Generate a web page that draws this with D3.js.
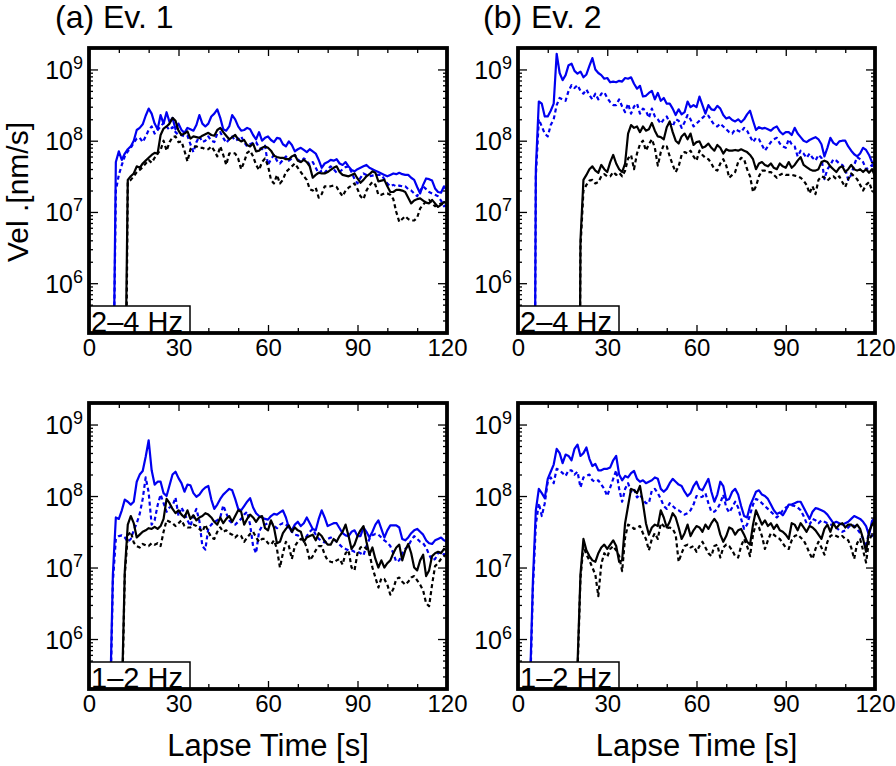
<!DOCTYPE html>
<html><head><meta charset="utf-8">
<script src="https://cdn.jsdelivr.net/npm/d3@7"></script>
<style>body{margin:0;background:#fff}svg{display:block}</style>
</head><body>
<script>
// ---------------- DATA (log10 of velocity in nm/s, one value per second) ----------------
// series order in each panel: [blue solid, blue dashed, black solid, black dashed]
const xTickLabels = [0, 30, 60, 90, 120];
const xMinorTicks = [10, 20, 40, 50, 70, 80, 100, 110];
const yTickLabels = [1e6, 1e7, 1e8, 1e9];
const panelTitles = ["(a) Ev. 1", "(b) Ev. 2"];
const bandLabels = ["2\u20134 Hz", "1\u20132 Hz"];

// Ev.1, 2-4 Hz
const ev1_24_onset = [8.3, 8.3, 12.3, 12.5];
const ev1_24_start = [9, 9, 13, 13];
const ev1_24_blueSolid = [7.7,
 7.85,7.73,7.82,7.88,7.92,8.0,8.15,8.18,8.23,8.35,
 8.45,8.38,8.24,8.16,8.36,8.24,8.4,8.26,8.32,8.16,
 8.24,8.15,8.11,8.18,8.16,8.14,8.22,8.36,8.24,8.2,
 8.24,8.34,8.38,8.44,8.32,8.16,8.14,8.2,8.36,8.3,
 8.2,8.14,8.15,8.18,8.16,8.08,8.02,8.12,8.0,8.04,
 8.06,8.01,7.98,8.04,8.03,7.95,7.92,7.99,7.94,7.85,
 7.88,7.9,7.87,7.84,7.88,7.85,7.82,7.73,7.62,7.68,
 7.7,7.73,7.72,7.74,7.68,7.66,7.7,7.64,7.59,7.57,
 7.6,7.62,7.64,7.66,7.62,7.6,7.58,7.56,7.54,7.52,
 7.5,7.52,7.54,7.53,7.55,7.53,7.52,7.52,7.48,7.45,
 7.35,7.26,7.38,7.47,7.46,7.44,7.33,7.28,7.27,7.36,7.3];
const ev1_24_blueDashed = [7.3,
 7.52,7.66,7.78,7.85,7.9,7.97,8.03,8.04,7.98,8.06,
 8.15,8.2,8.1,8.15,8.2,8.25,8.2,8.15,8.19,8.12,
 8.08,8.08,8.06,8.07,7.95,7.84,7.98,8.06,7.98,8.0,
 8.06,8.0,7.98,8.1,8.12,8.04,7.97,8.02,8.06,8.0,
 8.02,8.06,7.98,7.92,7.95,7.97,7.98,7.9,7.88,7.93,
 7.66,7.74,7.8,7.72,7.68,7.73,7.78,7.72,7.75,7.8,
 7.74,7.7,7.75,7.72,7.66,7.7,7.62,7.54,7.58,7.55,
 7.6,7.64,7.6,7.55,7.56,7.6,7.63,7.64,7.56,7.46,
 7.4,7.48,7.54,7.52,7.5,7.51,7.52,7.52,7.52,7.46,
 7.4,7.36,7.38,7.36,7.37,7.36,7.36,7.32,7.3,7.26,
 7.22,7.3,7.36,7.32,7.28,7.26,7.24,7.22,7.16,7.08,7.1];
const ev1_24_blackSolid = [7.45,7.5,7.54,7.64,7.62,7.68,7.72,
 7.76,7.8,7.83,7.82,8.08,8.17,8.2,8.24,8.32,8.28,
 8.14,8.08,8.1,8.13,8.03,8.06,8.05,8.04,8.07,8.09,
 8.11,8.08,8.07,8.15,8.18,8.12,8.07,8.02,8.05,8.08,
 8.02,7.99,8.01,7.94,7.92,7.96,7.85,7.86,7.9,7.92,
 7.9,7.86,7.79,7.77,7.76,7.76,7.74,7.74,7.78,7.8,
 7.72,7.7,7.73,7.7,7.64,7.48,7.52,7.55,7.54,7.54,
 7.56,7.59,7.62,7.64,7.56,7.52,7.51,7.5,7.52,7.54,
 7.47,7.41,7.45,7.5,7.53,7.57,7.55,7.43,7.44,7.45,
 7.36,7.28,7.28,7.31,7.31,7.3,7.28,7.2,7.12,7.16,
 7.18,7.19,7.16,7.13,7.12,7.17,7.12,7.07,7.1,7.14,7.12];
const ev1_24_blackDashed = [7.42,7.45,7.5,7.56,7.59,7.63,7.68,
 7.73,7.69,7.76,7.82,7.87,8.0,7.86,7.98,8.05,8.06,
 7.98,7.99,7.86,7.71,7.88,7.91,7.92,7.9,7.9,7.88,
 7.88,7.92,7.86,7.78,7.92,7.8,7.66,7.82,7.83,7.82,
 7.75,7.6,7.7,7.83,7.86,7.78,7.66,7.59,7.7,7.75,
 7.65,7.45,7.4,7.52,7.4,7.45,7.56,7.6,7.64,7.68,
 7.62,7.56,7.5,7.45,7.32,7.3,7.34,7.2,7.25,7.36,
 7.36,7.36,7.37,7.35,7.28,7.22,7.3,7.34,7.37,7.4,
 7.32,7.22,7.18,7.3,7.37,7.42,7.38,7.24,7.24,7.26,
 7.26,7.24,7.18,7.0,6.86,6.9,6.94,6.9,6.88,6.88,
 6.92,7.05,7.1,7.15,7.17,7.12,7.08,7.1,7.12,7.1,7.08];

// Ev.2, 2-4 Hz
const ev2_24_onset = [5.7, 5.7, 20.8, 20.8];
const ev2_24_start = [6, 6, 21, 21];
const ev2_24_blueSolid = [7.6,8.55,8.52,8.34,
 8.34,8.42,8.52,9.22,8.95,8.85,8.92,9.06,9.08,8.98,
 8.94,8.97,8.89,8.93,9.05,9.16,9.0,8.95,8.92,8.87,
 8.88,8.82,8.83,8.82,8.84,8.83,8.88,8.87,8.89,8.8,
 8.73,8.77,8.62,8.63,8.67,8.7,8.58,8.67,8.56,8.6,
 8.52,8.52,8.45,8.36,8.44,8.37,8.4,8.55,8.47,8.5,
 8.47,8.62,8.5,8.38,8.5,8.44,8.43,8.49,8.45,8.36,
 8.31,8.33,8.29,8.27,8.3,8.26,8.3,8.37,8.42,8.28,
 8.15,8.19,8.17,8.18,8.16,8.14,8.18,8.2,8.13,8.09,
 8.12,8.12,8.08,8.18,8.1,8.05,8.0,7.98,8.01,8.03,
 8.05,8.02,7.95,7.78,7.9,8.04,7.97,7.94,7.99,8.0,
 8.0,7.92,7.86,7.81,7.78,7.82,7.9,7.87,7.8,7.7,7.66];
const ev2_24_blueDashed = [7.5,8.3,8.2,8.1,
 8.06,8.22,8.3,8.5,8.6,8.58,8.56,8.7,8.78,8.74,
 8.78,8.7,8.66,8.72,8.64,8.58,8.66,8.58,8.66,8.68,
 8.6,8.54,8.5,8.5,8.58,8.48,8.4,8.52,8.38,8.48,
 8.52,8.38,8.45,8.42,8.32,8.45,8.34,8.3,8.24,8.3,
 8.34,8.25,8.2,8.3,8.28,8.18,8.26,8.36,8.3,8.2,
 8.24,8.28,8.32,8.36,8.35,8.28,8.22,8.2,8.24,8.2,
 8.16,8.12,8.1,8.16,8.14,8.12,8.18,8.14,8.06,7.98,
 8.04,8.02,7.94,7.86,7.92,7.98,8.02,8.04,7.96,7.92,
 7.9,8.02,7.95,7.92,7.78,7.86,7.82,7.76,7.82,7.76,
 7.72,7.8,7.76,7.46,7.6,7.66,7.74,7.72,7.68,7.66,
 7.6,7.45,7.52,7.66,7.77,7.74,7.7,7.6,7.62,7.66,7.6];
const ev2_24_blackSolid = [6.6,7.45,7.52,7.6,7.64,7.58,7.55,7.66,7.6,
 7.56,7.7,7.8,7.68,7.6,7.56,7.68,8.1,8.22,8.18,
 8.2,8.12,8.2,8.14,8.16,8.25,8.14,8.06,8.05,8.02,
 8.19,8.27,8.12,8.0,7.96,8.06,8.1,8.02,8.1,7.94,
 7.98,7.99,7.9,7.92,7.96,7.9,7.86,7.94,7.9,7.82,
 7.88,7.86,7.86,7.87,7.86,7.88,7.86,7.84,7.8,7.74,
 7.6,7.68,7.7,7.66,7.64,7.68,7.62,7.6,7.68,7.64,
 7.62,7.7,7.62,7.66,7.72,7.77,7.66,7.63,7.6,7.58,
 7.58,7.6,7.7,7.72,7.7,7.64,7.6,7.56,7.62,7.64,
 7.56,7.6,7.66,7.6,7.58,7.6,7.56,7.6,7.55,7.6,7.5];
const ev2_24_blackDashed = [6.5,7.3,7.38,7.44,7.45,7.4,7.42,7.5,7.53,
 7.5,7.5,7.56,7.52,7.55,7.5,7.58,7.75,7.8,7.6,
 7.82,7.95,8.0,7.86,7.95,8.02,7.9,7.65,7.84,7.94,
 7.92,7.78,7.66,7.56,7.64,7.8,7.84,7.82,7.86,7.78,
 7.72,7.86,7.8,7.76,7.74,7.68,7.6,7.58,7.68,7.74,
 7.65,7.48,7.52,7.56,7.7,7.76,7.74,7.6,7.5,7.28,
 7.36,7.5,7.58,7.58,7.56,7.56,7.52,7.48,7.52,7.54,
 7.52,7.52,7.52,7.51,7.5,7.48,7.44,7.38,7.26,7.36,
 7.25,7.45,7.5,7.48,7.44,7.48,7.5,7.46,7.5,7.42,
 7.35,7.46,7.54,7.5,7.46,7.38,7.3,7.38,7.42,7.3,7.26];

// Ev.1, 1-2 Hz
const ev1_12_onset = [7.0, 7.1, 10.9, 11.0];
const ev1_12_start = [8, 8, 12, 12];
const ev1_12_blueSolid = [6.9,7.7,
 7.68,7.8,7.95,7.92,7.88,7.92,8.2,8.3,8.35,8.55,
 8.78,8.36,8.16,8.2,8.2,8.04,8.0,8.15,8.3,8.34,
 8.25,8.18,8.06,8.16,8.15,8.04,7.99,8.02,8.08,8.12,
 8.14,7.95,7.82,7.88,7.96,8.02,8.06,8.1,8.08,7.96,
 7.82,7.8,7.86,7.92,7.97,7.84,7.76,7.72,7.7,7.68,
 7.67,7.72,7.75,7.74,7.77,7.8,7.7,7.56,7.52,7.6,
 7.64,7.58,7.62,7.7,7.62,7.54,7.52,7.68,7.8,7.7,
 7.58,7.6,7.62,7.62,7.55,7.48,7.45,7.44,7.5,7.52,
 7.44,7.44,7.56,7.5,7.42,7.5,7.6,7.66,7.54,7.42,
 7.52,7.59,7.59,7.59,7.56,7.4,7.38,7.42,7.48,7.52,
 7.54,7.5,7.46,7.38,7.34,7.33,7.38,7.4,7.42,7.38,7.36];
const ev1_12_blueDashed = [6.8,7.4,
 7.44,7.45,7.42,7.36,7.4,7.52,7.62,7.75,7.96,8.26,
 8.05,7.6,7.66,7.87,8.02,7.9,7.78,7.84,7.86,7.98,
 7.72,7.84,7.76,7.66,7.58,7.72,7.82,7.65,7.3,7.25,
 7.55,7.6,7.64,7.66,7.7,7.87,7.76,7.66,7.62,7.6,
 7.64,7.68,7.74,7.78,7.6,7.3,7.2,7.5,7.58,7.6,
 7.62,7.64,7.58,7.55,7.6,7.62,7.6,7.56,7.5,7.46,
 7.45,7.42,7.38,7.44,7.5,7.54,7.46,7.4,7.37,7.35,
 7.4,7.42,7.4,7.36,7.32,7.28,7.26,7.24,7.24,7.22,
 7.22,7.2,7.17,7.3,7.4,7.45,7.47,7.46,7.42,7.38,
 7.35,7.3,7.2,7.08,7.1,7.2,7.26,7.3,7.38,7.44,
 7.4,7.36,7.34,7.28,7.18,7.1,7.12,7.2,7.22,7.18,7.2];
const ev1_12_blackSolid = [6.95,7.6,7.72,7.62,7.42,7.46,7.5,7.52,
 7.55,7.54,7.57,7.54,7.58,7.68,7.96,7.9,7.82,7.76,
 7.8,7.74,7.7,7.8,7.68,7.73,7.66,7.7,7.72,7.76,
 7.74,7.7,7.64,7.6,7.7,7.62,7.68,7.72,7.64,7.72,
 7.8,7.78,7.6,7.68,7.74,7.7,7.64,7.7,7.72,7.55,
 7.52,7.66,7.56,7.34,7.36,7.48,7.54,7.59,7.5,7.56,
 7.52,7.5,7.36,7.42,7.44,7.46,7.38,7.48,7.44,7.37,
 7.32,7.32,7.4,7.36,7.44,7.5,7.6,7.44,7.26,7.32,
 7.44,7.52,7.58,7.36,7.18,7.28,7.12,7.0,7.1,7.0,
 7.06,7.1,7.2,7.28,7.32,7.1,7.24,7.33,7.2,7.0,
 6.96,7.1,7.18,6.88,6.96,7.16,7.2,7.22,7.2,7.26,7.24];
const ev1_12_blackDashed = [6.9,7.45,7.5,7.35,7.3,7.28,7.33,7.31,
 7.3,7.34,7.32,7.34,7.3,7.5,7.66,7.64,7.62,7.58,
 7.62,7.66,7.58,7.56,7.56,7.6,7.58,7.54,7.5,7.6,
 7.5,7.42,7.4,7.5,7.56,7.5,7.52,7.48,7.46,7.42,
 7.46,7.44,7.36,7.42,7.47,7.5,7.42,7.36,7.4,7.4,
 7.34,7.32,7.38,7.26,7.0,7.2,7.36,7.3,7.12,7.3,
 7.36,7.4,7.38,7.28,7.1,7.16,7.24,7.3,7.3,7.18,
 7.1,7.08,7.07,7.1,7.12,7.04,7.2,7.24,7.0,6.96,
 7.2,7.28,7.3,7.26,7.2,7.0,6.86,6.72,6.85,6.84,
 6.76,6.62,6.7,6.84,6.86,6.8,6.76,6.8,6.86,6.88,
 6.82,6.76,6.68,6.5,6.46,6.76,7.02,7.06,7.12,7.16,7.18];

// Ev.2, 1-2 Hz
const ev2_12_onset = [3.8, 3.9, 19.5, 19.6];
const ev2_12_start = [5, 5, 21, 21];
const ev2_12_blueSolid = [6.8,7.8,8.1,8.04,7.97,
 8.24,8.34,8.44,8.66,8.6,8.46,8.58,8.56,8.5,8.66,
 8.72,8.56,8.6,8.68,8.52,8.42,8.45,8.36,8.36,8.38,
 8.38,8.4,8.5,8.56,8.3,8.22,8.28,8.26,8.32,8.35,
 8.24,8.2,8.22,8.18,8.2,8.22,8.26,8.24,8.1,8.06,
 8.1,8.18,8.24,8.2,8.16,8.14,8.06,8.0,8.04,8.14,
 8.2,8.1,8.08,8.16,8.24,8.06,7.92,8.02,8.2,8.14,
 7.94,7.96,8.06,8.1,8.02,7.86,7.72,7.7,7.86,7.96,
 8.06,8.08,8.02,8.0,7.96,7.88,7.8,7.75,7.77,7.73,
 7.8,7.88,7.88,7.9,7.92,7.92,7.84,7.76,7.68,7.78,
 7.83,7.82,7.8,7.78,7.74,7.68,7.62,7.64,7.62,7.6,
 7.62,7.64,7.68,7.72,7.7,7.68,7.64,7.58,7.45,7.65,7.7];
const ev2_12_blueDashed = [6.7,7.6,7.9,7.72,7.9,
 8.2,8.26,8.18,8.38,8.36,8.32,8.28,8.36,8.36,8.3,
 8.34,8.12,8.26,8.28,8.3,8.22,8.2,8.22,8.16,8.1,
 8.0,8.12,8.24,8.36,8.1,7.92,8.1,8.18,8.06,8.1,
 7.98,8.02,7.95,7.9,7.9,8.08,8.1,8.04,7.96,7.86,
 7.82,7.9,7.86,7.82,7.8,7.77,7.74,7.76,7.8,7.88,
 8.0,7.98,7.99,8.04,7.9,7.78,7.78,7.82,7.9,8.02,
 7.84,7.77,7.84,7.92,7.84,7.68,7.54,7.6,7.74,7.88,
 7.96,7.94,7.9,7.86,7.82,7.78,7.74,7.7,7.74,7.8,
 7.84,7.86,7.87,7.86,7.84,7.8,7.72,7.62,7.6,7.68,
 7.66,7.62,7.66,7.64,7.62,7.6,7.6,7.56,7.52,7.5,
 7.52,7.56,7.6,7.58,7.54,7.48,7.4,7.28,7.52,7.44,7.48];
const ev2_12_blackSolid = [6.9,7.4,7.24,7.16,7.1,7.08,7.2,7.28,7.32,
 7.26,7.32,7.38,7.3,7.08,7.1,7.62,7.86,8.1,8.08,
 8.04,8.14,7.9,7.62,7.46,7.56,7.6,7.58,7.8,7.7,
 7.56,7.64,7.76,7.7,7.56,7.4,7.48,7.6,7.44,7.52,
 7.58,7.56,7.5,7.6,7.54,7.62,7.68,7.62,7.46,7.36,
 7.44,7.56,7.54,7.46,7.52,7.54,7.46,7.36,7.32,7.6,
 7.8,7.7,7.6,7.66,7.58,7.62,7.54,7.6,7.52,7.5,
 7.46,7.4,7.62,7.6,7.52,7.62,7.56,7.5,7.58,7.56,
 7.52,7.46,7.4,7.54,7.6,7.5,7.62,7.55,7.6,7.62,
 7.56,7.6,7.6,7.56,7.6,7.54,7.4,7.22,7.5,7.6,7.66];
const ev2_12_blackDashed = [6.85,7.3,7.18,7.1,7.0,6.9,6.6,7.05,7.2,
 7.15,7.26,7.3,7.24,7.16,6.95,7.42,7.6,7.58,7.54,
 7.56,7.58,7.48,7.4,7.24,7.4,7.48,7.4,7.62,7.58,
 7.55,7.56,7.54,7.46,7.08,7.2,7.3,7.32,7.28,7.3,
 7.22,7.3,7.36,7.28,7.2,7.16,7.3,7.32,7.14,7.28,
 7.32,7.3,7.24,7.16,7.14,7.3,7.4,7.3,7.16,7.46,
 7.62,7.56,7.44,7.26,7.38,7.48,7.46,7.42,7.4,7.34,
 7.28,7.26,7.38,7.44,7.46,7.42,7.38,7.3,7.2,7.12,
 7.26,7.36,7.28,7.18,7.36,7.44,7.46,7.44,7.42,7.44,
 7.4,7.38,7.28,7.12,7.34,7.4,7.24,7.07,7.38,7.46,7.48];

// ---------------- CHART ----------------
const W = 896, H = 766;
const FONT = '"Liberation Sans", Arial, Helvetica, sans-serif';
const BLUE = '#0000f0';
const svg = d3.select('body').append('svg').attr('width', W).attr('height', H)
  .style('font-family', FONT);

const cols = [{left: 89, right: 447}, {left: 518, right: 875}];
const rows = [{top: 48, bottom: 333}, {top: 403, bottom: 689}];

const panels = [
  {c: 0, r: 0, band: bandLabels[0], onset: ev1_24_onset, start: ev1_24_start,
   series: [ev1_24_blueSolid, ev1_24_blueDashed, ev1_24_blackSolid, ev1_24_blackDashed]},
  {c: 1, r: 0, band: bandLabels[0], onset: ev2_24_onset, start: ev2_24_start,
   series: [ev2_24_blueSolid, ev2_24_blueDashed, ev2_24_blackSolid, ev2_24_blackDashed]},
  {c: 0, r: 1, band: bandLabels[1], onset: ev1_12_onset, start: ev1_12_start,
   series: [ev1_12_blueSolid, ev1_12_blueDashed, ev1_12_blackSolid, ev1_12_blackDashed]},
  {c: 1, r: 1, band: bandLabels[1], onset: ev2_12_onset, start: ev2_12_start,
   series: [ev2_12_blueSolid, ev2_12_blueDashed, ev2_12_blackSolid, ev2_12_blackDashed]},
];
const styles = [
  {color: BLUE, dash: null},
  {color: BLUE, dash: '4,3'},
  {color: '#000', dash: null},
  {color: '#000', dash: '4,3'},
];
const drawOrder = [1, 0, 3, 2];

const yMinor = [];
[5, 6, 7, 8, 9].forEach(e => [2,3,4,5,6,7,8,9].forEach(m => {
  const v = m * Math.pow(10, e); if (v >= 2e5 && v <= 2e9) yMinor.push(v);
}));

panels.forEach((p, pi) => {
  const {left, right} = cols[p.c];
  const {top, bottom} = rows[p.r];
  const x = d3.scaleLinear().domain([0, 120]).range([left, right]);
  const y = d3.scaleLog().domain([2e5, 2e9]).range([bottom, top]);
  const g = svg.append('g');

  const clipId = 'clip' + pi;
  svg.append('clipPath').attr('id', clipId).append('rect')
    .attr('x', left).attr('y', top).attr('width', right - left).attr('height', bottom - top);

  const line = d3.line().x(d => x(d[0])).y(d => y(d[1]));
  const lg = g.append('g').attr('clip-path', `url(#${clipId})`);
  drawOrder.forEach(si => {
    const vals = p.series[si];
    const pts = [[p.onset[si], 1e5]].concat(vals.map((v, i) => [p.start[si] + i, Math.pow(10, v)]));
    lg.append('path').datum(pts).attr('d', line)
      .attr('fill', 'none').attr('stroke', styles[si].color)
      .attr('stroke-width', 2.2).attr('stroke-linejoin', 'round')
      .attr('stroke-dasharray', styles[si].dash);
  });

  // axes (ticks inward)
  const fmtAxis = sel => { sel.select('.domain').remove(); sel.selectAll('line').attr('stroke', '#000').attr('stroke-width', 1.3); };
  g.append('g').attr('transform', `translate(0,${bottom})`)
    .call(d3.axisBottom(x).tickValues(xTickLabels).tickSize(-8).tickPadding(6).tickFormat(d3.format('d')))
    .call(fmtAxis)
    .call(s => s.selectAll('text').attr('font-size', 24).attr('font-family', FONT).attr('fill', '#000'));
  g.append('g').attr('transform', `translate(0,${bottom})`)
    .call(d3.axisBottom(x).tickValues(xMinorTicks).tickSize(-5).tickFormat('')).call(fmtAxis);
  g.append('g').attr('transform', `translate(0,${top})`)
    .call(d3.axisTop(x).tickValues(xTickLabels).tickSize(-8).tickFormat('')).call(fmtAxis);
  g.append('g').attr('transform', `translate(0,${top})`)
    .call(d3.axisTop(x).tickValues(xMinorTicks).tickSize(-5).tickFormat('')).call(fmtAxis);

  const yl = g.append('g').attr('transform', `translate(${left},0)`)
    .call(d3.axisLeft(y).tickValues(yTickLabels).tickSize(-9).tickPadding(6).tickFormat(''))
    .call(fmtAxis);
  yl.selectAll('.tick').each(function(d) {
    const t = d3.select(this).append('text').attr('x', -6).attr('y', 9)
      .attr('text-anchor', 'end').attr('fill', '#000').attr('font-family', FONT);
    t.append('tspan').attr('font-size', 25).text('10');
    t.append('tspan').attr('font-size', 18).attr('dy', -10).text(Math.round(Math.log10(d)));
  });
  g.append('g').attr('transform', `translate(${left},0)`)
    .call(d3.axisLeft(y).tickValues(yMinor).tickSize(-4).tickFormat('')).call(fmtAxis);
  g.append('g').attr('transform', `translate(${right},0)`)
    .call(d3.axisRight(y).tickValues(yTickLabels).tickSize(-9).tickFormat('')).call(fmtAxis);
  g.append('g').attr('transform', `translate(${right},0)`)
    .call(d3.axisRight(y).tickValues(yMinor).tickSize(-4).tickFormat('')).call(fmtAxis);

  // band label box (text sits on the frame, clipped to the box like the reference)
  const boxClip = 'boxclip' + pi;
  svg.append('clipPath').attr('id', boxClip).append('rect')
    .attr('x', left).attr('y', bottom - 27).attr('width', 101).attr('height', 26);
  g.append('rect').attr('x', left).attr('y', bottom - 27).attr('width', 101).attr('height', 27)
    .attr('fill', '#fff').attr('stroke', '#000').attr('stroke-width', 1.5);
  g.append('g').attr('clip-path', `url(#${boxClip})`)
    .append('text').attr('x', left + 2).attr('y', bottom - 1).attr('font-size', 29)
    .attr('fill', '#000').text(p.band);

  // frame
  g.append('rect').attr('x', left).attr('y', top).attr('width', right - left).attr('height', bottom - top)
    .attr('fill', 'none').attr('stroke', '#000').attr('stroke-width', 3.8);
});

// titles
svg.append('text').attr('x', 55).attr('y', 28).attr('font-size', 32).attr('fill', '#000').text(panelTitles[0]);
svg.append('text').attr('x', 483).attr('y', 28).attr('font-size', 32).attr('fill', '#000').text(panelTitles[1]);

// y label
svg.append('text').attr('transform', 'translate(28,192) rotate(-90)').attr('text-anchor', 'middle')
  .attr('font-size', 30).attr('fill', '#000').text('Vel .[nm/s]');

// x labels
cols.forEach(c => {
  svg.append('text').attr('x', (c.left + c.right) / 2).attr('y', 756).attr('text-anchor', 'middle')
    .attr('font-size', 31).attr('fill', '#000').text('Lapse Time [s]');
});
</script>
</body></html>
